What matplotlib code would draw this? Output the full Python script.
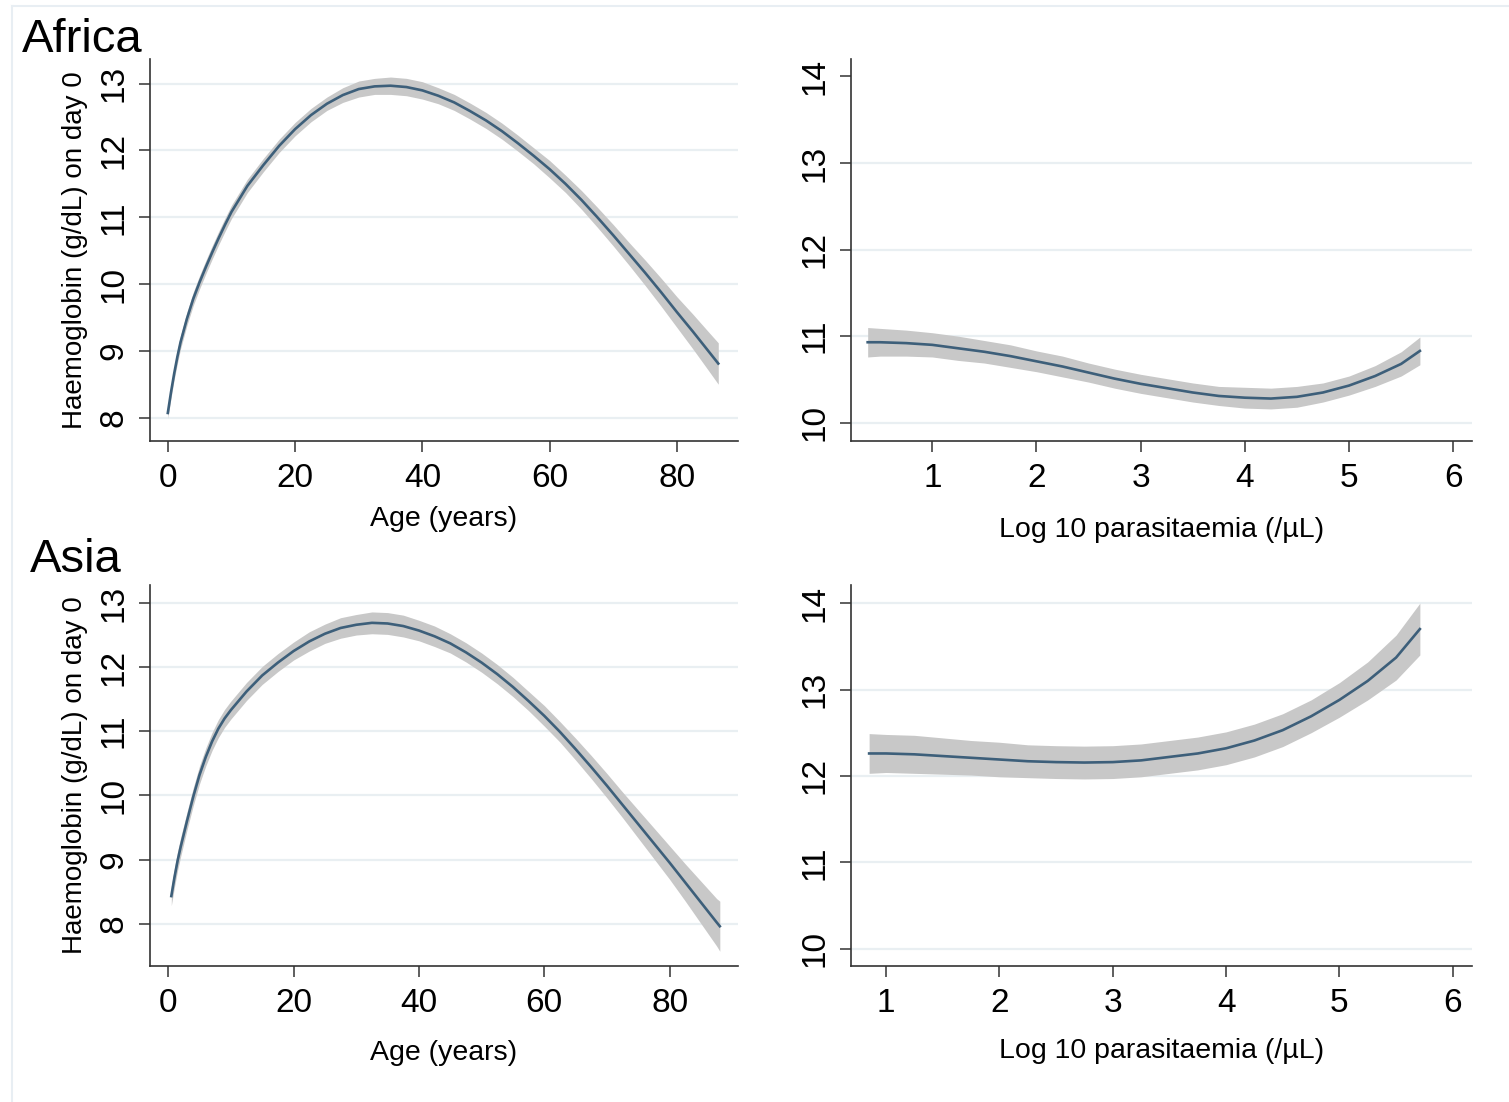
import numpy as np
import matplotlib
matplotlib.use("Agg")
import matplotlib.pyplot as plt
from matplotlib.lines import Line2D

plt.rcParams['font.family'] = ['Liberation Sans', 'DejaVu Sans']

# --- Africa, haemoglobin vs age ---
age_af = [0, 0.5, 1, 1.5, 2, 3, 4, 5, 6, 7, 8, 9, 10, 12.5, 15, 17.5, 20,
          22.5, 25, 27.5, 30, 32.5, 35, 37.5, 40, 42.5, 45, 47.5, 50, 52.5,
          55, 57.5, 60, 62.5, 65, 67.5, 70, 72.5, 75, 77.5, 80, 82.5, 85,
          86.5]
hb_age_af = [8.07, 8.38, 8.66, 8.91, 9.13, 9.48, 9.78, 10.03, 10.26, 10.48,
             10.69, 10.89, 11.08, 11.47, 11.78, 12.07, 12.32, 12.53, 12.70,
             12.83, 12.92, 12.96, 12.97, 12.95, 12.90, 12.82, 12.72, 12.59,
             12.45, 12.29, 12.11, 11.92, 11.72, 11.50, 11.26, 11.00, 10.73,
             10.45, 10.17, 9.88, 9.58, 9.29, 8.99, 8.81]
ci_age_af = [0.08, 0.09, 0.09, 0.1, 0.1, 0.1, 0.1, 0.1, 0.1, 0.1, 0.1, 0.1,
             0.1, 0.1, 0.1, 0.1, 0.1, 0.1, 0.1, 0.11, 0.12, 0.12, 0.13, 0.13,
             0.13, 0.12, 0.12, 0.12, 0.12, 0.12, 0.12, 0.12, 0.13, 0.13,
             0.14, 0.15, 0.16, 0.17, 0.19, 0.21, 0.23, 0.26, 0.29, 0.31]

# --- Africa, haemoglobin vs log10 parasitaemia ---
para_af = [0.38, 0.5, 0.75, 1.0, 1.25, 1.5, 1.75, 2.0, 2.25, 2.5, 2.75, 3.0,
           3.25, 3.5, 3.75, 4.0, 4.25, 4.5, 4.75, 5.0, 5.25, 5.5, 5.68]
hb_para_af = [10.93, 10.93, 10.92, 10.90, 10.86, 10.82, 10.77, 10.71, 10.65,
              10.58, 10.51, 10.45, 10.40, 10.35, 10.31, 10.29, 10.28, 10.30,
              10.35, 10.43, 10.54, 10.68, 10.83]
ci_para_af = [0.17, 0.16, 0.15, 0.14, 0.14, 0.13, 0.13, 0.12, 0.12, 0.11,
              0.11, 0.11, 0.11, 0.11, 0.11, 0.12, 0.12, 0.12, 0.11, 0.11,
              0.12, 0.14, 0.16]

# --- Asia, haemoglobin vs age ---
age_as = [0.5, 1, 1.5, 2, 3, 4, 5, 6, 7, 8, 9, 10, 12.5, 15, 17.5, 20, 22.5,
          25, 27.5, 30, 32.5, 35, 37.5, 40, 42.5, 45, 47.5, 50, 52.5, 55,
          57.5, 60, 62.5, 65, 67.5, 70, 72.5, 75, 77.5, 80, 82.5, 85, 87.5,
          88]
hb_age_as = [8.43, 8.72, 8.98, 9.2, 9.6, 9.98, 10.32, 10.6, 10.84, 11.04,
             11.2, 11.33, 11.62, 11.87, 12.07, 12.25, 12.40, 12.52, 12.61,
             12.66, 12.69, 12.68, 12.64, 12.57, 12.48, 12.37, 12.23, 12.07,
             11.89, 11.69, 11.47, 11.24, 10.99, 10.72, 10.44, 10.15, 9.85,
             9.55, 9.25, 8.95, 8.64, 8.33, 8.02, 7.96]
ci_age_as = [0.15, 0.15, 0.15, 0.15, 0.14, 0.14, 0.14, 0.14, 0.14, 0.14,
             0.14, 0.14, 0.14, 0.14, 0.14, 0.14, 0.15, 0.15, 0.16, 0.16,
             0.17, 0.17, 0.17, 0.16, 0.16, 0.15, 0.15, 0.15, 0.15, 0.15,
             0.15, 0.16, 0.16, 0.17, 0.18, 0.19, 0.2, 0.22, 0.24, 0.26,
             0.29, 0.33, 0.37, 0.39]

# --- Asia, haemoglobin vs log10 parasitaemia ---
para_as = [0.85, 1.0, 1.25, 1.5, 1.75, 2.0, 2.25, 2.5, 2.75, 3.0, 3.25, 3.5,
           3.75, 4.0, 4.25, 4.5, 4.75, 5.0, 5.25, 5.5, 5.71]
hb_para_as = [12.26, 12.26, 12.25, 12.23, 12.21, 12.19, 12.17, 12.16,
              12.155, 12.16, 12.18, 12.22, 12.26, 12.32, 12.41, 12.53, 12.69,
              12.88, 13.10, 13.37, 13.70]
ci_para_as = [0.23, 0.22, 0.22, 0.21, 0.2, 0.2, 0.19, 0.19, 0.19, 0.19,
              0.19, 0.19, 0.19, 0.19, 0.19, 0.19, 0.19, 0.2, 0.22, 0.26, 0.3]

age_ticks = [0, 20, 40, 60, 80]
para_ticks = [1, 2, 3, 4, 5, 6]
age_yticks = [8, 9, 10, 11, 12, 13]
para_yticks = [10, 11, 12, 13, 14]

line_col = '#3d5f7a'
band_col = '#c8c8c8'
grid_col = '#e9eff2'
axis_col = '#333333'

fig = plt.figure(figsize=(15.09, 11.02), dpi=100)
W, H = 1509, 1102


def make_ax(left, top, right, bottom):
    return fig.add_axes([left / W, 1 - bottom / H, (right - left) / W,
                         (bottom - top) / H])


def panel(ax, x, y, ci, xlim, ylim, xticks, yticks, xlabel, xlab_y,
          ylabel=None, grid_skip=()):
    x = np.array(x)
    y = np.array(y)
    ci = np.array(ci)
    for g in yticks:
        if g in grid_skip:
            continue
        ax.axhline(g, color=grid_col, lw=1.6, zorder=0)
    ax.fill_between(x, y - ci, y + ci, color=band_col, lw=0, zorder=1)
    ax.plot(x, y, color=line_col, lw=1.9, zorder=2)
    ax.set_xlim(*xlim)
    ax.set_ylim(*ylim)
    ax.set_xticks(xticks)
    ax.set_yticks(yticks)
    for s in ['top', 'right']:
        ax.spines[s].set_visible(False)
    for s in ['left', 'bottom']:
        ax.spines[s].set_color(axis_col)
        ax.spines[s].set_linewidth(1.2)
    ax.tick_params(axis='both', colors=axis_col, labelcolor='black',
                   length=8, width=1.1, labelsize=24, pad=7)
    ax.tick_params(axis='x', pad=7.5)
    for lab in ax.get_yticklabels():
        lab.set_rotation(90)
        lab.set_va('center')
    ax.set_xlabel(xlabel, fontsize=20.5)
    ax.xaxis.set_label_coords(0.5, xlab_y)
    if ylabel:
        ax.set_ylabel(ylabel, fontsize=20)
        ax.yaxis.set_label_coords(-0.106, 0.5)


ax1 = make_ax(150, 59, 738, 441)
panel(ax1, age_af, hb_age_af, ci_age_af, (-2.8, 89.6), (7.65, 13.37),
      age_ticks, age_yticks, 'Age (years)', -0.17,
      ylabel='Haemoglobin (g/dL) on day 0')

ax2 = make_ax(851, 59, 1472, 441)
panel(ax2, para_af, hb_para_af, ci_para_af, (0.22, 6.18), (9.79, 14.2),
      para_ticks, para_yticks, 'Log 10 parasitaemia (/\u00b5L)', -0.198,
      grid_skip=(14,))

ax3 = make_ax(150, 585, 738, 966)
panel(ax3, age_as, hb_age_as, ci_age_as, (-2.9, 90.9), (7.34, 13.28),
      age_ticks, age_yticks, 'Age (years)', -0.193,
      ylabel='Haemoglobin (g/dL) on day 0')

ax4 = make_ax(851, 585, 1472, 966)
panel(ax4, para_as, hb_para_as, ci_para_as, (0.69, 6.17), (9.80, 14.21),
      para_ticks, para_yticks, 'Log 10 parasitaemia (/\u00b5L)', -0.19)

fig.text(22 / W, 1 - 52 / H, 'Africa', fontsize=34, va='baseline')
fig.text(30 / W, 1 - 572 / H, 'Asia', fontsize=34, va='baseline')

# faint outer frame (top and left edges)
fig.add_artist(Line2D([12 / W, 1], [1 - 6 / H, 1 - 6 / H], color='#e8eef3',
                      lw=1.5, transform=fig.transFigure))
fig.add_artist(Line2D([12 / W, 12 / W], [0, 1 - 6 / H], color='#e8eef3',
                      lw=1.5, transform=fig.transFigure))

fig.savefig('out.png', dpi=100, facecolor='white')
